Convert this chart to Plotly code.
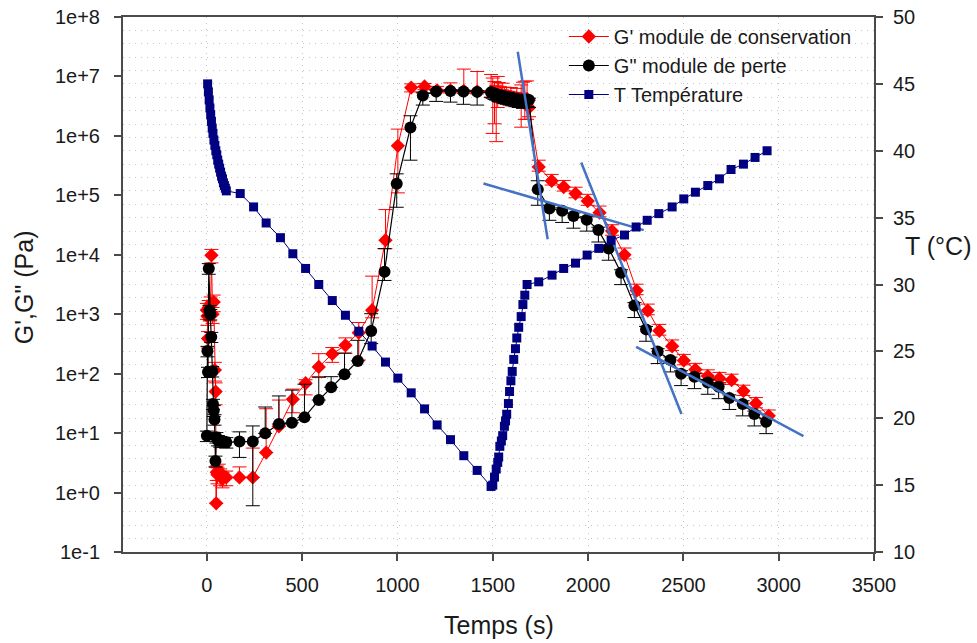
import plotly.graph_objects as go

# ---------------- G' : module de conservation (Pa) ----------------
t_gp = [0, 3, 6, 10, 15, 20, 24, 30, 36, 42, 46, 49, 52, 56, 62, 70, 82, 102,
        171, 241, 311, 378, 451, 518, 587, 658, 727, 797, 867, 937, 1002, 1072, 1142, 1208, 1278, 1348, 1418,
        1491, 1500, 1509, 1518, 1526, 1531, 1537, 1545, 1552, 1561, 1567, 1573, 1582, 1588, 1595, 1602,
        1610, 1619, 1626, 1636, 1649, 1658, 1668, 1680, 1690,
        1741, 1809, 1872, 1934, 1998, 2060, 2126, 2191, 2255, 2313, 2374, 2441, 2502, 2563, 2628, 2689,
        2753, 2815, 2881, 2948]
gp = [1170, 930, 390, 1300, 1100, 1500, 9800, 1000, 1600, 115, 50, 0.66, 2.2, 2.0, 2.3, 1.9, 1.7, 1.8,
      1.8, 1.8, 4.7, 13, 37, 69, 130, 215, 300, 490, 1170, 17600, 6.8e5, 6.5e6, 6.8e6, 5.8e6, 5.8e6, 5.7e6, 5.6e6,
      5.5e6, 5.4e6, 5.2e6, 5.1e6, 5.0e6, 4.9e6, 4.8e6, 4.9e6, 4.7e6, 4.6e6, 4.7e6, 4.5e6, 4.6e6, 4.4e6, 4.5e6, 4.3e6,
      4.4e6, 4.2e6, 4.3e6, 4.1e6, 4.2e6, 4.0e6, 4.1e6, 4.2e6, 3.0e6,
      3.0e5, 1.75e5, 1.38e5, 1.07e5, 8.0e4, 5.1e4, 2.5e4, 1.0e4, 2500, 1150, 525, 289, 166, 117, 91, 83,
      78, 51, 31.6, 19.5]
gp_err_up = [350, 280, 120, 400, 330, 450, 2500, 300, 500, 40, 20, 2.0, 0.6, 0.6, 0.7, 0.6, 0.5, 0.5,
             0.9, 3.8, 21, 23, 18, 10, 87, 60, 100, 235, 3200, 40000, 6.2e5, 1.0e6, 0.8e6, 1.0e6, 2.0e6, 7.6e6, 6.5e6,
             5.3e6, 4.0e6, 3.0e6, 2.0e6, 5.0e6, 3.0e6, 2.0e6, 1.0e6, 3.0e6, 2.0e6, 1.0e6, 2.0e6, 1.0e6, 1.0e6, 2.0e6, 1.0e6,
             1.0e6, 1.0e6, 2.0e6, 1.0e6, 3.0e6, 4.0e6, 4.2e6, 4.2e6, 1.0e6,
             9e4, 5e4, 4e4, 3e4, 2.4e4, 1.5e4, 7e3, 3e3, 700, 330, 150, 80, 45, 32, 25, 22,
             20, 13, 8, 5]
gp_err_dn = [350, 280, 120, 400, 330, 450, 2500, 300, 500, 40, 20, 0, 0.6, 0.6, 0.7, 0.6, 0.5, 0.5,
             0, 0, 0, 0, 15, 25, 41, 60, 80, 320, 300, 5000, 5.7e5, 1.0e6, 0.8e6, 0.5e6, 0.5e6, 0.5e6, 0.5e6,
             1.0e6, 4.3e6, 3.6e6, 4.3e6, 2.0e6, 1.0e6, 1.0e6, 1.0e6, 1.0e6, 1.0e6, 1.0e6, 1.0e6, 1.0e6, 1.0e6, 1.0e6, 1.0e6,
             1.0e6, 1.0e6, 1.0e6, 1.0e6, 2.8e6, 1.0e6, 2.2e6, 2.3e6, 0.9e6,
             4.5e4, 2.6e4, 2e4, 1.6e4, 1.2e4, 7.5e3, 3.7e3, 1.5e3, 370, 170, 80, 43, 25, 17, 14, 12,
             12, 8, 5, 3]

# ---------------- G" : module de perte (Pa) ----------------
t_gpp = [0, 3, 6, 10, 14, 18, 23, 28, 32, 36, 40, 45, 50, 58, 70, 85, 102,
         171, 241, 306, 378, 446, 512, 587, 652, 722, 792, 862, 932, 996, 1068, 1133, 1203, 1278, 1346, 1418,
         1491, 1500, 1509, 1518, 1526, 1531, 1537, 1545, 1552, 1561, 1567, 1573, 1582, 1588, 1595, 1602,
         1610, 1619, 1626, 1636, 1649, 1658, 1668, 1680, 1690,
         1736, 1797, 1864, 1923, 1993, 2054, 2108, 2173, 2243, 2304, 2365, 2432, 2488, 2558, 2628, 2685,
         2741, 2811, 2872, 2934]
gpp = [9.0, 240, 107, 5900, 1170, 1000, 415, 110, 31, 24, 17, 3.4, 8.5, 7.6, 7.3, 7.1, 7.0,
       7.2, 7.2, 9.9, 14.2, 14.9, 18.4, 36, 59, 98, 164, 520, 5200, 1.56e5, 1.38e6, 4.8e6, 5.6e6, 5.7e6, 5.6e6, 5.5e6,
       5.4e6, 5.3e6, 5.1e6, 5.0e6, 4.9e6, 4.8e6, 4.7e6, 4.8e6, 4.6e6, 4.5e6, 4.6e6, 4.4e6, 4.5e6, 4.3e6, 4.4e6, 4.2e6,
       4.3e6, 4.1e6, 4.2e6, 4.0e6, 4.1e6, 3.9e6, 4.0e6, 4.1e6, 4.0e6,
       1.26e5, 6.0e4, 5.5e4, 4.5e4, 3.9e4, 2.6e4, 1.28e4, 5000, 1400, 556, 235, 170, 100, 89, 71, 60,
       39, 31, 21, 15.5]
gpp_err_up = [1.8, 48, 21, 1200, 230, 200, 80, 22, 6, 5, 3.4, 0.7, 1.7, 1.5, 1.5, 1.4, 1.4,
              3.3, 6.0, 17.6, 28, 38, 48, 51, 30, 124, 200, 500, 7500, 7.4e4, 8e5, 0.5e6, 0.3e6, 0.3e6, 0.3e6, 0.3e6,
              0.3e6, 0.3e6, 0.3e6, 0.3e6, 0.3e6, 0.3e6, 0.3e6, 0.3e6, 0.3e6, 0.3e6, 0.3e6, 0.3e6, 0.3e6, 0.3e6, 0.3e6, 0.3e6,
              0.3e6, 0.3e6, 0.3e6, 0.3e6, 0.3e6, 0.3e6, 0.3e6, 0.3e6, 0.3e6,
              5e4, 7e3, 6.6e3, 5.4e3, 4.7e3, 3.1e3, 1.5e3, 600, 170, 67, 28, 20, 12, 11, 9, 7,
              5, 4, 2.5, 1.9]
gpp_err_dn = [1.8, 48, 21, 1200, 230, 200, 80, 22, 6, 5, 3.4, 0.7, 1.7, 1.5, 1.5, 1.4, 1.4,
              3.3, 6.6, 0, 0, 0, 0, 0, 0, 0, 0, 200, 1500, 9.3e4, 9.9e5, 1.5e6, 1.8e6, 2.0e6, 2.2e6, 2.2e6,
              1.0e6, 1.0e6, 1.0e6, 1.0e6, 1.0e6, 1.0e6, 1.0e6, 1.0e6, 1.0e6, 1.0e6, 1.0e6, 1.0e6, 1.0e6, 1.0e6, 1.0e6, 1.0e6,
              1.0e6, 1.0e6, 1.0e6, 1.0e6, 1.0e6, 1.0e6, 1.0e6, 1.0e6, 1.0e6,
              5.8e4, 2.2e4, 2.0e4, 1.7e4, 1.4e4, 9.6e3, 4.7e3, 1.85e3, 520, 205, 87, 63, 37, 33, 26, 22,
              14, 11.5, 7.8, 5.7]

# ---------------- T : température (°C) ----------------
t_T = [4, 8, 12, 16, 20, 24, 28, 32, 37, 42, 47, 52, 57, 62, 67, 72, 77, 82, 87, 92, 97, 102,
       175, 245, 311, 386, 451, 518, 587, 658, 727, 797, 867, 937, 1002, 1072, 1142, 1208, 1278, 1348, 1418, 1491,
       1500, 1509, 1518, 1526, 1531, 1537, 1545, 1552, 1561, 1567, 1573, 1582, 1588, 1595, 1602, 1610, 1619,
       1626, 1636, 1649, 1658, 1668, 1680,
       1741, 1811, 1872, 1934, 1995, 2056, 2121, 2191, 2252, 2310, 2371, 2441, 2502, 2563, 2628, 2689,
       2750, 2815, 2876, 2939]
temp = [45.0, 44.4, 43.8, 43.2, 42.7, 42.2, 41.7, 41.3, 40.8, 40.4, 40.0, 39.7, 39.3, 39.0, 38.7, 38.4,
        38.1, 37.9, 37.6, 37.4, 37.2, 37.0,
        36.8, 35.8, 34.6, 33.5, 32.3, 31.2, 30.0, 28.8, 27.7, 26.5, 25.4, 24.2, 23.0, 21.9, 20.7, 19.5,
        18.4, 17.2, 16.1, 14.9,
        15.0, 15.6, 16.2, 16.7, 17.1, 17.9, 18.3, 18.7, 19.4, 19.8, 20.3, 21.1, 22.0, 22.8, 23.5, 24.4, 25.2,
        26.0, 26.8, 27.6, 28.5, 29.2, 30.0,
        30.2, 30.7, 31.2, 31.6, 32.2, 32.7, 33.3, 33.7, 34.3, 34.8, 35.3, 35.8, 36.4, 36.9, 37.4, 37.9,
        38.6, 39.0, 39.5, 40.0]

# Tangent lines (start/end in s and Pa)
tangent_x = [[1631, 1788], [1451, 2292], [1964, 2490], [2252, 3130]]
tangent_y = [[2.6e7, 1.83e4], [1.58e5, 2.6e4], [3.56e5, 20.9], [283, 8.93]]

x_ticks = [0, 500, 1000, 1500, 2000, 2500, 3000, 3500]
y_ticks = [1e-1, 1e0, 1e1, 1e2, 1e3, 1e4, 1e5, 1e6, 1e7, 1e8]
y_ticktext = ["1e-1", "1e+0", "1e+1", "1e+2", "1e+3", "1e+4", "1e+5", "1e+6", "1e+7", "1e+8"]
t_ticks = [10, 15, 20, 25, 30, 35, 40, 45, 50]

FONT = "Arial, 'Liberation Sans', sans-serif"
AXIS_COLOR = "#4a4a4a"
GRID_COLOR = "#c4c4c4"
GRID_DASH = "1px,5px"
TEXT_COLOR = "#1a1a1a"

fig = go.Figure()

fig.add_trace(go.Scatter(
    x=t_gp, y=gp, name="G' module de conservation", mode="lines+markers",
    line=dict(color="#ff0000", width=1),
    marker=dict(symbol="diamond", size=11, color="#ff0000"),
    error_y=dict(type="data", symmetric=False, array=gp_err_up, arrayminus=gp_err_dn,
                 color="#ff0000", thickness=1, width=7),
    yaxis="y",
))
fig.add_trace(go.Scatter(
    x=t_gpp, y=gpp, name='G" module de perte', mode="lines+markers",
    line=dict(color="#000000", width=1.2),
    marker=dict(symbol="circle", size=12, color="#000000"),
    error_y=dict(type="data", symmetric=False, array=gpp_err_up, arrayminus=gpp_err_dn,
                 color="#000000", thickness=1, width=7),
    yaxis="y",
))
for xs, ys in zip(tangent_x, tangent_y):
    fig.add_trace(go.Scatter(
        x=xs, y=ys, mode="lines", showlegend=False, hoverinfo="skip",
        line=dict(color="#4472c4", width=2.5), yaxis="y",
    ))
fig.add_trace(go.Scatter(
    x=t_T, y=temp, name="T Température", mode="lines+markers",
    line=dict(color="#000080", width=1),
    marker=dict(symbol="square", size=9, color="#000080"),
    yaxis="y2",
))

axis_common = dict(
    showline=True, linecolor=AXIS_COLOR, linewidth=2,
    ticks="outside", ticklen=7, tickwidth=2, tickcolor=AXIS_COLOR,
    tickfont=dict(family=FONT, size=20, color=TEXT_COLOR),
    zeroline=False, automargin=False,
)

fig.update_layout(
    width=977, height=643,
    margin=dict(l=123, r=103, t=17, b=91),
    paper_bgcolor="white", plot_bgcolor="white",
    font=dict(family=FONT, color=TEXT_COLOR),
    xaxis=dict(
        range=[-440, 3500], tickvals=x_ticks, mirror=True,
        showgrid=True, gridcolor=GRID_COLOR, griddash=GRID_DASH, gridwidth=1,
        ticklabelstandoff=7,
        **axis_common,
    ),
    yaxis=dict(
        type="log", range=[-1, 8], tickvals=y_ticks, ticktext=y_ticktext,
        showgrid=False, ticklabelstandoff=10,
        **axis_common,
    ),
    yaxis2=dict(
        overlaying="y", side="right", range=[10, 50], tickvals=t_ticks,
        showgrid=True, gridcolor=GRID_COLOR, griddash=GRID_DASH, gridwidth=1,
        minor=dict(dtick=1, showgrid=True, gridcolor=GRID_COLOR, griddash=GRID_DASH, gridwidth=1),
        ticklabelstandoff=6,
        **axis_common,
    ),
    legend=dict(
        x=0.587, y=1.0, xanchor="left", yanchor="top",
        bgcolor="rgba(0,0,0,0)", borderwidth=0,
        font=dict(family=FONT, size=20, color=TEXT_COLOR),
        itemwidth=40, tracegroupgap=0,
    ),
    annotations=[
        dict(text="Temps (s)", x=0.5, y=-0.1364, xref="paper", yref="paper",
             xanchor="center", yanchor="middle", showarrow=False,
             font=dict(family=FONT, size=25, color=TEXT_COLOR)),
        dict(text='G\',G" (Pa)', x=-0.1318, y=0.495, xref="paper", yref="paper",
             xanchor="center", yanchor="middle", showarrow=False, textangle=-90,
             font=dict(family=FONT, size=25, color=TEXT_COLOR)),
        dict(text="T (°C)", x=1.085, y=0.572, xref="paper", yref="paper",
             xanchor="center", yanchor="middle", showarrow=False,
             font=dict(family=FONT, size=25, color=TEXT_COLOR)),
    ],
    showlegend=True,
)

fig.write_html("out.html")
